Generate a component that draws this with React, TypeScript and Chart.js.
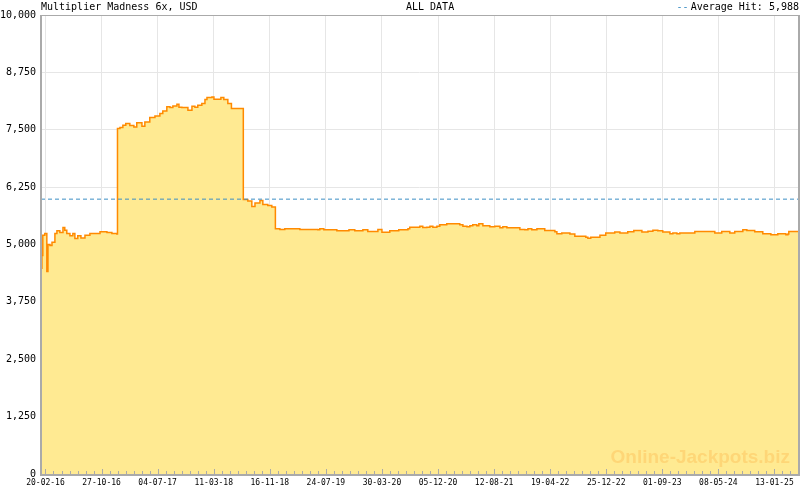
import React, { useEffect, useRef } from "react";
import { Chart, registerables } from "chart.js";

Chart.register(...registerables);

// ---------------- data ----------------
const TITLE = "Multiplier Madness 6x, USD";
const SUBTITLE = "ALL DATA";
const AVERAGE_LABEL = "Average Hit: 5,988";
const WATERMARK = "Online-Jackpots.biz";

const START_DATE = "2016-02-20"; // day 0 of the x axis
const LABEL_EVERY_DAYS = 250;
const MINOR_PER_LABEL = 7;
const X_MIN_DAY = -20;
const X_MAX_DAY = 3355;

const Y_MIN = 0;
const Y_MAX = 10000;
const Y_STEP = 1250;

const AVERAGE_HIT = 5988;

// days since START_DATE
const dayOffsets = [
  -20, -16, -12, -3, 4, 6, 11, 20, 29, 42,
  51, 64, 78, 86, 95, 109, 122, 131, 144, 158,
  176, 198, 229, 243, 274, 296, 318, 321, 332, 345,
  358, 376, 394, 407, 416, 430, 443, 452, 465, 488,
  501, 510, 523, 541, 555, 568, 586, 595, 608, 621,
  635, 653, 666, 679, 697, 711, 720, 733, 742, 751,
  777, 782, 795, 809, 813, 829, 880, 882, 902, 920,
  934, 956, 969, 991, 1009, 1023, 1025, 1045, 1067, 1090,
  1134, 1214, 1223, 1241, 1299, 1348, 1353, 1379, 1415, 1437,
  1482, 1500, 1535, 1571, 1575, 1616, 1624, 1669, 1682, 1700,
  1714, 1727, 1745, 1758, 1789, 1847, 1861, 1879, 1892, 1905,
  1923, 1932, 1950, 1981, 2003, 2026, 2039, 2057, 2097, 2115,
  2137, 2151, 2168, 2191, 2204, 2226, 2249, 2271, 2280, 2302,
  2338, 2360, 2396, 2409, 2418, 2431, 2463, 2472, 2485, 2498,
  2525, 2538, 2561, 2583, 2596, 2623, 2641, 2659, 2686, 2708,
  2730, 2752, 2784, 2797, 2815, 2828, 2886, 2895, 2975, 2984,
  3006, 3015, 3038, 3051, 3073, 3105, 3109, 3127, 3149, 3162,
  3185, 3198, 3234, 3252, 3265, 3301, 3310, 3314, 3355,
];

const jackpotValues = [
  4480, 4760, 5200, 5240, 5240, 4410, 5000, 4980, 5050, 5240,
  5300, 5260, 5370, 5310, 5240, 5190, 5240, 5130, 5190, 5140,
  5200, 5240, 5240, 5280, 5260, 5240, 5230, 7526, 7550, 7600,
  7635, 7590, 7560, 7650, 7650, 7576, 7670, 7670, 7766, 7800,
  7800, 7853, 7911, 8000, 7985, 8020, 8057, 7990, 7985, 7985,
  7926, 8013, 7990, 8035, 8072, 8159, 8203, 8203, 8216, 8166,
  8166, 8203, 8160, 8160, 8072, 7963, 7963, 5983, 5945, 5830,
  5902, 5961, 5873, 5852, 5815, 5815, 5343, 5328, 5343, 5343,
  5328, 5321, 5343, 5321, 5299, 5299, 5321, 5299, 5321, 5284,
  5329, 5269, 5299, 5299, 5321, 5343, 5378, 5400, 5370, 5378,
  5400, 5378, 5400, 5430, 5452, 5430, 5400, 5386, 5410, 5430,
  5410, 5452, 5410, 5386, 5400, 5365, 5386, 5365, 5365, 5328,
  5321, 5343, 5321, 5343, 5343, 5306, 5306, 5280, 5233, 5250,
  5230, 5182, 5182, 5160, 5138, 5160, 5160, 5200, 5200, 5248,
  5248, 5270, 5248, 5250, 5280, 5306, 5306, 5270, 5290, 5310,
  5300, 5270, 5233, 5248, 5233, 5248, 5248, 5284, 5284, 5248,
  5248, 5284, 5284, 5248, 5284, 5284, 5320, 5306, 5306, 5280,
  5280, 5233, 5211, 5211, 5233, 5211, 5230, 5284, 5284,
];

// ---------------- helpers ----------------
const MONO = "'DejaVu Sans Mono', monospace";
const START_MS = Date.parse(START_DATE);
const pad2 = (n: number) => (n < 10 ? "0" : "") + n;
const formatDay = (d: number) => {
  const t = new Date(START_MS + Math.round(d) * 86400000);
  return pad2(t.getUTCDate()) + "-" + pad2(t.getUTCMonth() + 1) + "-" + pad2(t.getUTCFullYear() % 100);
};
const minorStep = LABEL_EVERY_DAYS / MINOR_PER_LABEL;
const isMajor = (v: number) => {
  const i = Math.round(v / minorStep);
  return i % MINOR_PER_LABEL === 0;
};

const overlayPlugin = {
  id: "overlay",
  afterDatasetsDraw(chart: any) {
    const { ctx, chartArea } = chart;
    ctx.save();
    ctx.font = "bold 19px 'Liberation Sans', Arial, sans-serif";
    ctx.fillStyle = "#fed677";
    ctx.textAlign = "right";
    ctx.textBaseline = "alphabetic";
    ctx.fillText(WATERMARK, chartArea.right - 8, chartArea.bottom - 11);
    ctx.restore();
  },
  afterDraw(chart: any) {
    const { ctx, chartArea } = chart;
    const { left, right, top, bottom } = chartArea;
    const xs = chart.scales.x;
    ctx.save();
    // x tick marks inside plot
    ctx.strokeStyle = "#aaaaaa";
    ctx.lineWidth = 1;
    xs.ticks.forEach((t: any) => {
      const px = Math.round(xs.getPixelForValue(t.value)) + 0.5;
      if (px < left + 2 || px > right) return;
      const len = isMajor(t.value) ? 5 : 3;
      ctx.beginPath();
      ctx.moveTo(px, bottom);
      ctx.lineTo(px, bottom - len);
      ctx.stroke();
    });
    // frame
    ctx.fillStyle = "#aaaaaa";
    ctx.fillRect(left - 1, top, right - left + 3, 1);
    ctx.fillRect(left - 1, top, 2, bottom - top + 2);
    ctx.fillRect(left - 1, bottom, right - left + 3, 2);
    ctx.fillRect(right, top, 2, bottom - top + 2);
    // header texts
    ctx.font = "10px " + MONO;
    ctx.textBaseline = "alphabetic";
    ctx.fillStyle = "#000000";
    ctx.textAlign = "left";
    ctx.fillText(TITLE, left, 10);
    ctx.fillText(SUBTITLE, 406, 10);
    ctx.textAlign = "right";
    ctx.fillText(AVERAGE_LABEL, 799, 10);
    const w = ctx.measureText(AVERAGE_LABEL).width;
    ctx.fillStyle = "#3b8ec4";
    ctx.fillText("--", 799 - w - 2, 10);
    ctx.restore();
  },
};

export default function App() {
  const ref = useRef<HTMLCanvasElement>(null);

  useEffect(() => {
    const canvas = ref.current;
    if (!canvas) return;
    const jackpotPoints = dayOffsets.map((d, i) => ({ x: d, y: jackpotValues[i] }));
    const averagePoints = [
      { x: X_MIN_DAY, y: AVERAGE_HIT },
      { x: X_MAX_DAY, y: AVERAGE_HIT },
    ];
    const chart = new Chart(canvas, {
      type: "line",
      data: {
        datasets: [
          {
            label: "Average Hit",
            data: averagePoints,
            borderColor: "#3b8ec4",
            borderWidth: 1,
            borderDash: [4, 3],
            pointRadius: 0,
            fill: false,
          },
          {
            label: "Jackpot",
            data: jackpotPoints,
            borderColor: "#ff8a00",
            borderWidth: 1.5,
            backgroundColor: "#ffea92",
            fill: "origin",
            pointRadius: 0,
            stepped: true,
            tension: 0,
          },
        ],
      },
      options: {
        responsive: false,
        animation: false,
        devicePixelRatio: 1,
        events: [],
        layout: { padding: { top: 15, right: 2, left: 0, bottom: 0 }, autoPadding: false },
        plugins: {
          legend: { display: false },
          tooltip: { enabled: false },
          title: { display: false },
        },
        scales: {
          x: {
            type: "linear",
            min: X_MIN_DAY,
            max: X_MAX_DAY,
            afterBuildTicks(scale: any) {
              const ticks: any[] = [];
              for (let i = 0; ; i++) {
                const v = i * minorStep;
                if (v > scale.max) break;
                ticks.push({ value: v });
              }
              scale.ticks = ticks;
            },
            afterFit(scale: any) {
              scale.height = 16;
            },
            ticks: {
              autoSkip: false,
              maxRotation: 0,
              minRotation: 0,
              padding: 4,
              color: "#000000",
              font: { family: MONO, size: 8 },
              callback: (value: any) => (isMajor(Number(value)) ? formatDay(Number(value)) : ""),
            },
            grid: {
              drawTicks: false,
              lineWidth: 1,
              color: (c: any) => (c.tick && isMajor(c.tick.value) ? "#e6e6e6" : "rgba(0,0,0,0)"),
            },
            border: { display: false },
          },
          y: {
            min: Y_MIN,
            max: Y_MAX,
            afterFit(scale: any) {
              scale.width = 41;
            },
            ticks: {
              stepSize: Y_STEP,
              padding: 5,
              color: "#000000",
              font: { family: MONO, size: 10 },
              callback: (value: any) => Number(value).toLocaleString("en-US"),
            },
            grid: {
              drawTicks: false,
              lineWidth: 1,
              color: "#e6e6e6",
            },
            border: { display: false },
          },
        },
      },
      plugins: [overlayPlugin],
    } as any);
    return () => chart.destroy();
  }, []);

  return (
    <div style={{ position: "absolute", left: 0, top: 0, width: 800, height: 490, background: "#ffffff" }}>
      <canvas ref={ref} width={800} height={490} style={{ display: "block", width: 800, height: 490 }} />
    </div>
  );
}
